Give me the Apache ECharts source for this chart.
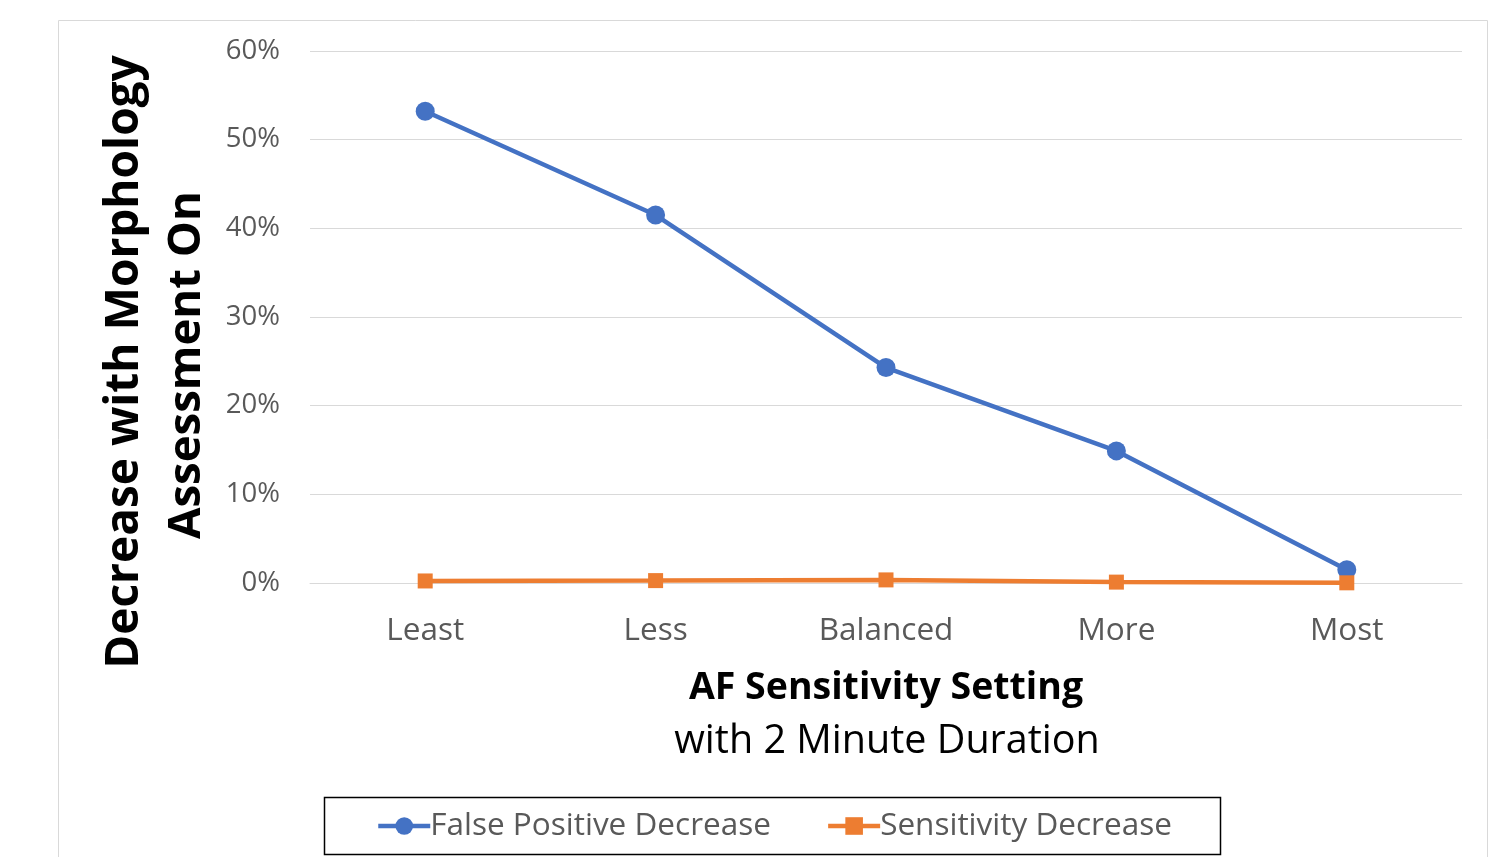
<!DOCTYPE html>
<html><head><meta charset="utf-8">
<script src="https://cdn.jsdelivr.net/npm/echarts@6/dist/echarts.min.js"></script>
<style>html,body{margin:0;padding:0;background:#fff}#c{width:1500px;height:857px}</style>
</head><body><div id="c"></div>
<script>
const categories = ['Least', 'Less', 'Balanced', 'More', 'Most'];
const falsePositiveDecrease = [0.532, 0.415, 0.243, 0.149, 0.015];
const sensitivityDecrease = [0.0023, 0.0027, 0.0035, 0.001, 0.0002];
const yTicks = [0, 0.1, 0.2, 0.3, 0.4, 0.5, 0.6];
const FONT = '"Open Sans", "Noto Sans", sans-serif';

const chart = echarts.init(document.getElementById('c'));
chart.setOption({
  animation: false,
  textStyle: { fontFamily: FONT },
  grid: { left: 310, right: 38, top: 51, bottom: 274 },
  xAxis: {
    type: 'category', data: categories, boundaryGap: true,
    axisLine: { lineStyle: { color: '#d9d9d9', width: 1 } },
    axisTick: { show: false },
    axisLabel: { color: '#595959', fontSize: 31.5, margin: 32, fontFamily: FONT }
  },
  yAxis: {
    type: 'value', min: yTicks[0], max: yTicks[yTicks.length - 1], interval: 0.1,
    axisLine: { show: false }, axisTick: { show: false },
    splitLine: { lineStyle: { color: '#d9d9d9', width: 1 } },
    axisLabel: { color: '#595959', fontSize: 27.5, margin: 30, fontFamily: FONT,
      formatter: v => Math.round(v * 100) + '%' }
  },
  legend: {
    left: 371, top: 805, itemWidth: 52, itemHeight: 22, itemGap: 55,
    lineStyle: { width: 4.5 },
    textStyle: { color: '#595959', fontSize: 31.5, fontFamily: FONT, padding: [0, 0, 0, -5] },
    data: ['False Positive Decrease', 'Sensitivity Decrease']
  },
  series: [
    { name: 'False Positive Decrease', type: 'line', data: falsePositiveDecrease,
      symbol: 'circle', symbolSize: 19,
      lineStyle: { color: '#4472c4', width: 4.5 }, itemStyle: { color: '#4472c4' } },
    { name: 'Sensitivity Decrease', type: 'line', data: sensitivityDecrease,
      symbol: 'rect', symbolSize: 15,
      lineStyle: { color: '#ed7d31', width: 4.5 }, itemStyle: { color: '#ed7d31' } }
  ],
  graphic: [
    { type: 'rect', shape: { x: 58.5, y: 20.5, width: 1429, height: 900 }, silent: true, z: -10,
      style: { fill: 'none', stroke: '#d9d9d9', lineWidth: 1 } },
    { type: 'rect', shape: { x: 324.5, y: 797.5, width: 896, height: 57 }, silent: true,
      style: { fill: 'none', stroke: '#000', lineWidth: 1.5 } },
    { type: 'text', x: 125, y: 362, rotation: Math.PI / 2,
      style: { text: 'Decrease with Morphology', fontSize: 46, fontWeight: 'bold', fill: '#000',
        fontFamily: FONT, textAlign: 'center', textVerticalAlign: 'middle' } },
    { type: 'text', x: 187, y: 365, rotation: Math.PI / 2,
      style: { text: 'Assessment On', fontSize: 45.5, fontWeight: 'bold', fill: '#000',
        fontFamily: FONT, textAlign: 'center', textVerticalAlign: 'middle' } },
    { type: 'text', x: 886, y: 688,
      style: { text: 'AF Sensitivity Setting', fontSize: 37.5, fontWeight: 'bold', fill: '#000',
        fontFamily: FONT, textAlign: 'center', textVerticalAlign: 'middle' } },
    { type: 'text', x: 887, y: 742,
      style: { text: 'with 2 Minute Duration', fontSize: 39.5, fill: '#000',
        fontFamily: FONT, textAlign: 'center', textVerticalAlign: 'middle' } }
  ]
});
</script></body></html>
